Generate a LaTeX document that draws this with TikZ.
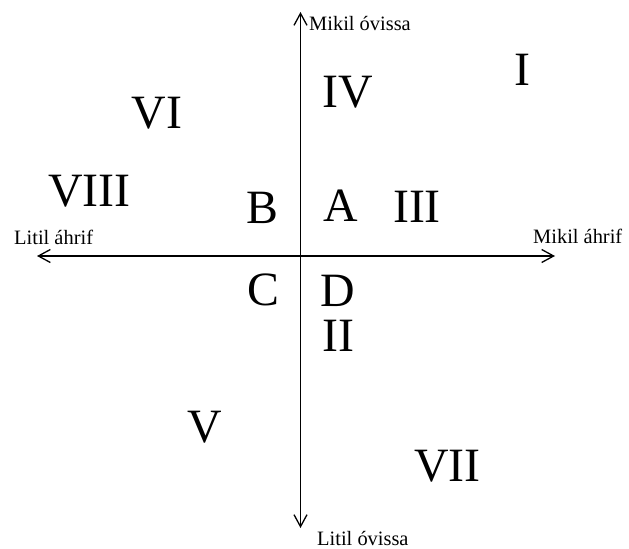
\documentclass[tikz,border=0pt]{standalone}
\usepackage{fontspec}
\setmainfont{Liberation Serif}
\usetikzlibrary{arrows.meta}

\begin{document}
\begin{tikzpicture}[x=1bp, y=-1bp, >={Straight Barb[length=12bp,width=13bp]},
  big/.style={anchor=base, inner sep=0pt, font=\fontsize{48}{48}\selectfont},
  small/.style={anchor=base west, inner sep=0pt, font=\fontsize{20.5}{21}\selectfont},]
\useasboundingbox (0,0) rectangle (629,549);
\coordinate (top) at (300.5, 12);
\coordinate (bot) at (300.5, 528);
\coordinate (lft) at (37, 256);
\coordinate (rgt) at (555, 256);
\node[big] (1) at (522, 86)  {I};
\node[big] (2) at (338, 351) {II};
\node[big] (3) at (417, 223) {III};
\node[big] (4) at (348, 108) {IV};
\node[big] (5) at (204.5, 442) {V};
\node[big] (6) at (157, 129) {VI};
\node[big] (7) at (447.5, 481) {VII};
\node[big] (8) at (89.5, 207) {VIII};
\node[big] (a) at (341, 222) {A};
\node[big] (b) at (262, 224) {B};
\node[big] (c) at (263, 305) {C};
\node[big] (d) at (338, 306) {D};
\node[small] (mo) at (309, 31)  {Mikil óvissa};
\node[small] (lo) at (317, 545) {Litil óvissa};
\node[small] (la) at (14, 245)  {Litil áhrif};
\node[small] (ma) at (533, 244) {Mikil áhrif};
  \draw [<->, line width=1.3bp] (bot)--(top);
  \draw [<->, line width=1.3bp] (lft)--(rgt);
\end{tikzpicture}
\end{document}
